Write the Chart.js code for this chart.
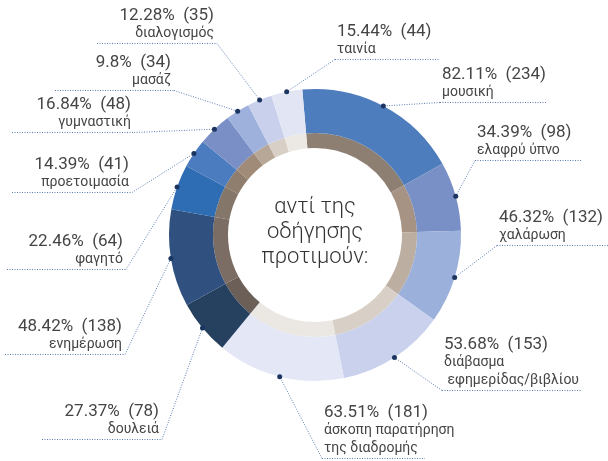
<!DOCTYPE html>
<html lang="el">
<head>
<meta charset="utf-8">
<script src="https://cdn.jsdelivr.net/npm/chart.js@4"></script>
<title>αντί της οδήγησης προτιμούν</title>
<style>
body{margin:0;background:#fff;}
#wrap{width:608px;height:461px;position:relative;}
</style>
</head>
<body>
<div id="wrap"><canvas id="myChart"></canvas></div>
<script>
// categories, clockwise from the top
const categories = [
	['μουσική'],
	['ελαφρύ ύπνο'],
	['χαλάρωση'],
	['διάβασμα', ' εφημερίδας/βιβλίου'],
	['άσκοπη παρατήρηση', 'της διαδρομής'],
	['δουλειά'],
	['ενημέρωση'],
	['φαγητό'],
	['προετοιμασία'],
	['γυμναστική'],
	['μασάζ'],
	['διαλογισμός'],
	['ταινία']
];
const counts   = [234, 98, 132, 153, 181, 78, 138, 64, 41, 48, 34, 35, 44];
const percents = [82.11, 34.39, 46.32, 53.68, 63.51, 27.37, 48.42, 22.46, 14.39, 16.84, 9.8, 12.28, 15.44];
const centerLines = ['αντί της', 'οδήγησης', 'προτιμούν:'];

const outerColors = ['#4e7dbd','#7990c6','#9bb0da','#c9d1ec','#e4e7f5','#26405f',
	'#30517f','#2e6cb3','#4b7cbf','#798fc6','#9db1dc','#c8d0ec','#e2e5f3'];
const innerColors = ['#8e7f73','#a69383','#bcaea1','#d8cfc6','#ebe8e3','#6b5f58',
	'#7b6d63','#85766a','#8f7d6e','#a08b78','#b6a797','#d8cfc6','#ece9e4'];

// where each label sits: underline y, underline from x0 to x1, side of the text
const labelLayout = [
	{side:'r', y:102, x0:440, x1:547},
	{side:'r', y:160, x0:475, x1:582},
	{side:'r', y:245, x0:497, x1:608},
	{side:'r', y:390, x0:442, x1:582},
	{side:'r', y:458, x0:322, x1:425},
	{side:'l', y:439, x0:42,  x1:162},
	{side:'l', y:354, x0:5,   x1:125},
	{side:'l', y:269, x0:7,   x1:126},
	{side:'l', y:192, x0:12,  x1:132},
	{side:'l', y:132, x0:12,  x1:134},
	{side:'l', y:90,  x0:55,  x1:174},
	{side:'l', y:43,  x0:97,  x1:217},
	{side:'r', y:59,  x0:335, x1:440}
];

const FONT = 'Roboto, "Noto Sans", sans-serif';

const labelPlugin = {
	id: 'labels',
	afterDraw(chart) {
		const ctx = chart.ctx;
		const arcs = chart.getDatasetMeta(0).data;
		ctx.save();
		arcs.forEach((arc, i) => {
			const p = arc.getProps(['x','y','startAngle','endAngle','outerRadius'], true);
			const mid = (p.startAngle + p.endAngle) / 2;
			const dx = p.x + Math.cos(mid) * p.outerRadius;
			const dy = p.y + Math.sin(mid) * p.outerRadius;
			const L = labelLayout[i];
			const ax = L.side === 'r' ? L.x0 : L.x1;

			ctx.setLineDash([1, 1.5]);
			ctx.strokeStyle = '#5a7db4';
			ctx.lineWidth = 1;
			ctx.beginPath();
			ctx.moveTo(L.x0, L.y + 0.5);
			ctx.lineTo(L.x1, L.y + 0.5);
			ctx.moveTo(ax, L.y + 0.5);
			ctx.lineTo(dx, dy);
			ctx.stroke();
			ctx.setLineDash([]);

			ctx.fillStyle = '#1b3560';
			ctx.beginPath();
			ctx.arc(dx, dy, 2.5, 0, Math.PI * 2);
			ctx.fill();

			const lines = categories[i];
			const tx = L.side === 'r' ? L.x0 + 2 : L.x1 - 3;
			ctx.textAlign = L.side === 'r' ? 'left' : 'right';
			ctx.textBaseline = 'alphabetic';
			ctx.fillStyle = '#454545';
			let by = L.y - 6;
			ctx.font = '400 14px ' + FONT;
			for (let k = lines.length - 1; k >= 0; k--) {
				ctx.fillText(lines[k], tx, by);
				if (k > 0) by -= 18;
			}
			ctx.font = '400 17px ' + FONT;
			ctx.fillText(percents[i] + '%  (' + counts[i] + ')', tx, by - 17);
		});

		// text in the hole
		const c = arcs[0].getProps(['x','y'], true);
		ctx.textAlign = 'center';
		ctx.fillStyle = '#333333';
		ctx.font = '300 22px ' + FONT;
		centerLines.forEach((t, k) => {
			ctx.fillText(t, c.x, c.y - 22 + k * 25);
		});
		ctx.restore();
	}
};

const data = {
	labels: categories,
	datasets: [
		{ data: counts, backgroundColor: outerColors, borderWidth: 0, weight: 44 },
		{ data: counts, backgroundColor: innerColors, borderWidth: 0, weight: 15 }
	]
};

const config = {
	type: 'doughnut',
	data: data,
	options: {
		responsive: true,
		maintainAspectRatio: false,
		animation: false,
		rotation: -5,
		cutout: '59.6%',
		layout: { padding: { left: 169, right: 147, top: 89, bottom: 80 } },
		plugins: { legend: { display: false }, tooltip: { enabled: false } }
	},
	plugins: [labelPlugin]
};

const myChart = new Chart(document.getElementById('myChart'), config);
</script>
</body>
</html>
